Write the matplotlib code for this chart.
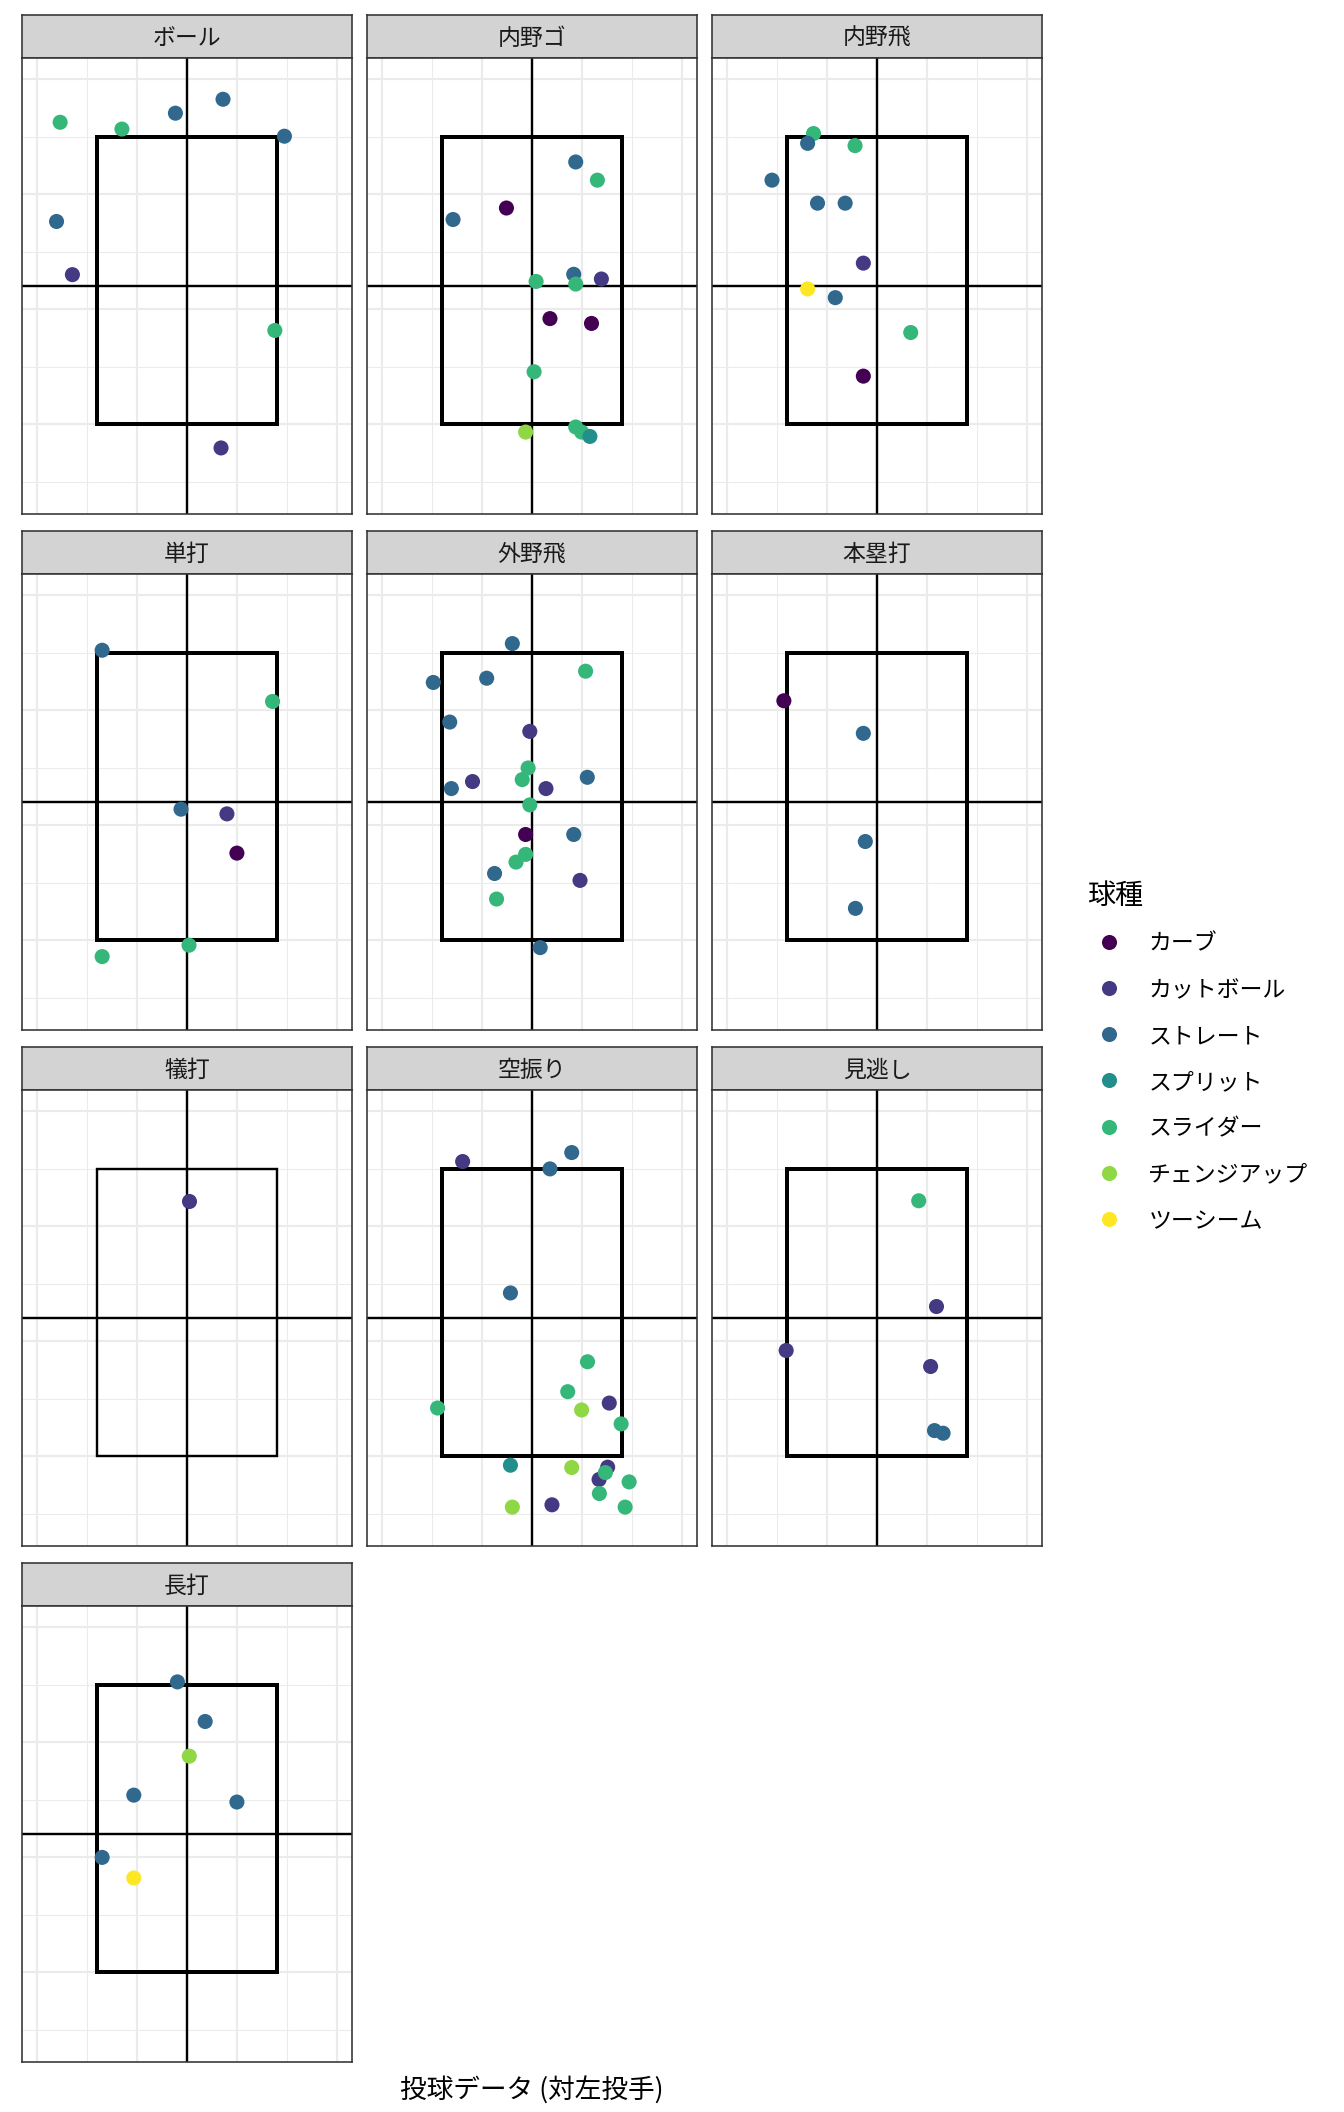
import matplotlib
matplotlib.use('Agg')
import matplotlib.pyplot as plt
from matplotlib.patches import Rectangle

plt.rcParams['font.family'] = ['Noto Sans CJK JP', 'DejaVu Sans']

pitch_types = ['カーブ', 'カットボール', 'ストレート', 'スプリット', 'スライダー', 'チェンジアップ', 'ツーシーム']
pitch_colors = ['#440154', '#443A83', '#31688E', '#21908C', '#35B779', '#8FD744', '#FDE725']
CV, CT, FB, SP, SL, CH, TS = pitch_types

# ボール
ball_x = [22.9, 84.8, 138.4, 186.1, 247.6, 19.3, 35.2, 238.0, 184.1]
ball_y = [37.6, 43.5, 29.7, 17.6, 49.7, 123.8, 170.0, 218.5, 320.6]
ball_p = [SL, SL, FB, FB, FB, FB, CT, SL, CT]

# 内野ゴ
igo_x = [193.8, 215.5, 124.4, 70.9, 191.8, 154.1, 193.8, 219.5, 168.0, 209.6, 152.1, 143.6, 193.8, 199.7, 208.0]
igo_y = [72.1, 87.9, 112.1, 122.1, 169.7, 175.9, 178.2, 173.8, 208.2, 212.4, 254.4, 306.8, 302.4, 306.8, 310.6]
igo_p = [FB, SL, CV, FB, FB, SL, SL, CT, CV, CV, SL, CH, SL, SL, SP]

# 内野飛
ifly_x = [86.4, 80.5, 128.0, 44.8, 90.4, 118.1, 136.3, 80.5, 108.2, 183.8, 136.3]
ifly_y = [47.4, 55.9, 57.9, 87.9, 107.9, 107.9, 160.0, 182.4, 190.0, 220.3, 258.2]
ifly_p = [SL, FB, SL, FB, FB, FB, CT, TS, FB, SL, CV]

# 単打
single_x = [65.0, 235.7, 144.0, 190.0, 200.0, 152.0, 65.0]
single_y = [48.0, 92.5, 186.1, 190.2, 224.3, 304.3, 314.2]
single_p = [FB, SL, FB, CT, CV, SL, SL]

# 外野飛
ofly_x = [130.3, 203.7, 51.1, 104.6, 67.6, 147.8, 146.1, 140.2, 205.4, 90.4, 69.2,
          164.0, 147.8, 143.6, 191.8, 143.6, 134.0, 112.5, 198.1, 114.5, 158.2]
ofly_y = [42.2, 66.2, 76.0, 72.3, 110.4, 118.5, 150.3, 160.4, 158.4, 162.1, 168.2,
          168.2, 182.4, 208.1, 208.1, 225.4, 232.1, 242.0, 248.0, 264.2, 306.4]
ofly_p = [FB, SL, FB, FB, FB, CT, SL, SL, FB, CT, FB, CT, SL, CV, FB, SL, SL, FB, CT, SL, FB]

# 本塁打
hr_x = [56.7, 136.3, 138.3, 128.4]
hr_y = [91.9, 120.2, 214.2, 272.3]
hr_p = [CV, FB, FB, FB]

# 犠打
bunt_x = [152.0]
bunt_y = [78.3]
bunt_p = [CT]

# 空振り
swing_x = [80.5, 189.8, 168.0, 128.4, 205.6, 185.8, 227.4, 199.7, 55.4, 239.3,
           128.4, 189.8, 225.8, 217.2, 223.5, 247.3, 217.5, 243.3, 130.3, 170.0]
swing_y = [43.9, 36.1, 50.3, 158.1, 217.9, 243.9, 253.8, 259.8, 258.1, 271.9,
           307.8, 309.8, 309.5, 320.2, 314.2, 322.3, 332.4, 344.2, 344.2, 342.2]
swing_p = [CT, FB, FB, FB, SL, SL, CT, CH, SL, SL, SP, CH, CT, CT, SL, SL, SL, SL, CH, CT]

# 見逃し
look_x = [191.8, 209.6, 59.0, 203.7, 207.6, 216.2]
look_y = [78.0, 169.9, 208.1, 222.0, 277.7, 280.0]
look_p = [SL, CT, CT, CT, FB, FB]

# 長打
xbh_x = [140.4, 168.2, 152.3, 96.7, 200.0, 65.0, 96.7]
xbh_y = [47.7, 82.1, 112.2, 146.1, 152.1, 200.2, 218.1]
xbh_p = [FB, FB, CH, FB, FB, FB, TS]

panels = [
    ('ボール', ball_x, ball_y, ball_p),
    ('内野ゴ', igo_x, igo_y, igo_p),
    ('内野飛', ifly_x, ifly_y, ifly_p),
    ('単打', single_x, single_y, single_p),
    ('外野飛', ofly_x, ofly_y, ofly_p),
    ('本塁打', hr_x, hr_y, hr_p),
    ('犠打', bunt_x, bunt_y, bunt_p),
    ('空振り', swing_x, swing_y, swing_p),
    ('見逃し', look_x, look_y, look_p),
    ('長打', xbh_x, xbh_y, xbh_p),
]

# strike zone and centre lines (data units)
zone_x = (60, 240)
zone_y = (50, 300)
mid_x = 150
mid_y = 180

color_of = dict(zip(pitch_types, pitch_colors))

W, H = 1344, 2112
fig = plt.figure(figsize=(7, 11), dpi=192)

col_left = [22.3, 367.3, 712.3]
row_top = [14.7, 530.7, 1046.7, 1562.7]
pw, strip_h, ph = 329.4, 43.6, 455.7


def frac(x, y, w, h):
    return [x / W, 1 - (y + h) / H, w / W, h / H]


for i, (name, xs, ys, ps) in enumerate(panels):
    r, c = divmod(i, 3)
    left, top = col_left[c], row_top[r]

    sax = fig.add_axes(frac(left, top, pw, strip_h))
    sax.set_facecolor('#D3D3D3')
    sax.set_xticks([])
    sax.set_yticks([])
    for s in sax.spines.values():
        s.set_color('#333333')
        s.set_linewidth(0.6)
    sax.text(0.5, 0.45, name, ha='center', va='center', fontsize=8.6,
             color='#1A1A1A', transform=sax.transAxes)

    ax = fig.add_axes(frac(left, top + strip_h, pw, ph))
    ax.set_xlim(-15, 315)
    ax.set_ylim(378, -18)
    ax.set_xticks([0, 100, 200, 300])
    ax.set_xticks([50, 150, 250], minor=True)
    ax.set_yticks([0, 100, 200, 300])
    ax.set_yticks([50, 150, 250, 350], minor=True)
    ax.grid(which='major', color='#EBEBEB', lw=0.8)
    ax.grid(which='minor', color='#EBEBEB', lw=0.4)
    ax.set_axisbelow(True)
    ax.tick_params(which='both', length=0, labelbottom=False, labelleft=False)
    for s in ax.spines.values():
        s.set_color('#333333')
        s.set_linewidth(0.6)

    ax.axvline(mid_x, color='black', lw=0.9, zorder=2)
    ax.axhline(mid_y, color='black', lw=0.9, zorder=2)
    lw = 0.9 if len(xs) == 1 else 1.5
    ax.add_patch(Rectangle((zone_x[0], zone_y[0]), zone_x[1] - zone_x[0],
                           zone_y[1] - zone_y[0], fill=False, ec='black',
                           lw=lw, zorder=3))
    ax.scatter(xs, ys, s=32, c=[color_of[p] for p in ps], linewidths=0, zorder=4)

# legend
lax = fig.add_axes([0, 0, 1, 1])
lax.set_xlim(0, W)
lax.set_ylim(H, 0)
lax.axis('off')
lax.patch.set_alpha(0)
lax.text(1086.7, 896, '球種', ha='left', va='center', fontsize=10.5, color='black')
for k, (lab, col) in enumerate(zip(pitch_types, pitch_colors)):
    yk = 941.7 + k * 46.2
    lax.scatter([1109], [yk], s=32, c=col, linewidths=0)
    lax.text(1148.3, yk + 2.5, lab, ha='left', va='center', fontsize=8.6, color='black')

fig.text(532 / W, 1 - 2090.5 / H, '投球データ (対左投手)', ha='center', va='center',
         fontsize=10.0, color='black')

fig.savefig('out.png', dpi=192)
